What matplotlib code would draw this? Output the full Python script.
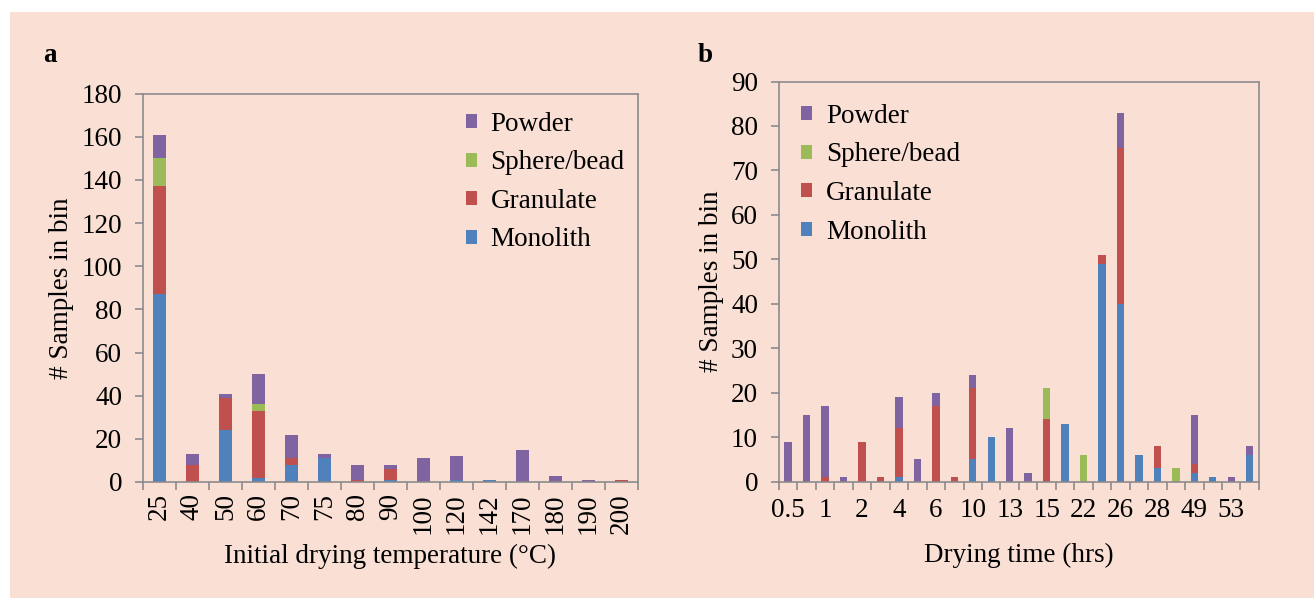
import numpy as np
import matplotlib
matplotlib.use('Agg')
import matplotlib.pyplot as plt
from matplotlib.patches import Rectangle

plt.rcParams['font.family'] = ['Liberation Serif', 'DejaVu Serif']
plt.rcParams['font.size'] = 19.5

# colours for the four sample shapes
c_mono = '#4f81bd'
c_gran = '#c0504d'
c_sphere = '#9bbb59'
c_powder = '#8064a2'
bg = '#f9dfd4'
edge = '#8c8c8c'

# panel a: initial drying temperature bins
temp_labels = ['25', '40', '50', '60', '70', '75', '80', '90', '100', '120', '142', '170', '180', '190', '200']
temp_mono = [87, 0, 24, 2, 8, 11, 0, 1, 0, 1, 1, 0, 0, 0, 0]
temp_gran = [50, 8, 15, 31, 3, 0, 1, 5, 0, 0, 0, 0, 0, 0, 1]
temp_sphere = [13, 0, 0, 3, 0, 0, 0, 0, 0, 0, 0, 0, 0, 0, 0]
temp_powder = [11, 5, 2, 14, 11, 2, 7, 2, 11, 11, 0, 15, 3, 1, 0]

# panel b: drying time bins (only every other bin is labelled on the axis)
time_labels = ['0.5', '', '1', '', '2', '', '4', '', '6', '', '10', '', '13', '',
               '15', '', '22', '', '26', '', '28', '', '49', '', '53', '']
time_mono = [0, 0, 0, 0, 0, 0, 1, 0, 0, 0, 5, 10, 0, 0, 0, 13, 0, 49, 40, 6, 3, 0, 2, 1, 0, 6]
time_gran = [0, 0, 1, 0, 9, 1, 11, 0, 17, 1, 16, 0, 0, 0, 14, 0, 0, 2, 35, 0, 5, 0, 2, 0, 0, 0]
time_sphere = [0, 0, 0, 0, 0, 0, 0, 0, 0, 0, 0, 0, 0, 0, 7, 0, 6, 0, 0, 0, 0, 3, 0, 0, 0, 0]
time_powder = [9, 15, 16, 1, 0, 0, 7, 5, 3, 0, 3, 0, 12, 2, 0, 0, 0, 0, 8, 0, 0, 0, 11, 0, 1, 2]


def stacked(ax, mono, gran, sphere, powder, width):
    x = np.arange(len(mono))
    mono = np.array(mono, dtype=float)
    gran = np.array(gran, dtype=float)
    sphere = np.array(sphere, dtype=float)
    powder = np.array(powder, dtype=float)
    b1 = ax.bar(x, mono, width, color=c_mono, label='Monolith', zorder=2)
    b2 = ax.bar(x, gran, width, bottom=mono, color=c_gran, label='Granulate', zorder=2)
    b3 = ax.bar(x, sphere, width, bottom=mono + gran, color=c_sphere, label='Sphere/bead', zorder=2)
    b4 = ax.bar(x, powder, width, bottom=mono + gran + sphere, color=c_powder, label='Powder', zorder=2)
    return [b4, b3, b2, b1]


def style(ax, n, labels, rot, pad):
    ax.set_facecolor(bg)
    for s in ax.spines.values():
        s.set_color(edge)
        s.set_linewidth(1.2)
    ax.set_xlim(-0.5, n - 0.5)
    # tick marks sit on the bin boundaries, labels at the bin centres
    ax.set_xticks(np.arange(n + 1) - 0.5)
    ax.set_xticklabels([])
    ax.set_xticks(np.arange(n), minor=True)
    ax.set_xticklabels(labels, minor=True, rotation=rot)
    ax.tick_params(axis='x', which='major', direction='out', length=6, width=1.2, color=edge)
    ax.tick_params(axis='x', which='minor', length=0, pad=pad)
    ax.tick_params(axis='y', direction='out', length=6, width=1.2, color=edge, pad=9)
    ax.set_ylabel('# Samples in bin')


fig = plt.figure(figsize=(13.14, 5.98), dpi=100)
fig.patch.set_facecolor('white')
fig.patches.append(Rectangle((10 / 1314, 0), 1, 1 - 12 / 598, transform=fig.transFigure,
                             facecolor=bg, edgecolor='none', zorder=-10))

leg_kw = dict(loc='upper left', frameon=False, borderpad=0, borderaxespad=0,
              handlelength=0.42, handleheight=0.42, handletextpad=0.5, labelspacing=0.5)

ax1 = fig.add_axes([0.1088, 0.194, 0.3767, 0.6496])
h = stacked(ax1, temp_mono, temp_gran, temp_sphere, temp_powder, 0.4)
style(ax1, len(temp_labels), temp_labels, 90, 8)
ax1.set_ylim(0, 180)
ax1.set_yticks(range(0, 181, 20))
ax1.set_xlabel('Initial drying temperature (°C)', labelpad=7)
ax1.legend(handles=h, bbox_to_anchor=(0.652, 0.953), **leg_kw)
ax1.yaxis.set_label_coords(-0.14, 0.5)

ax2 = fig.add_axes([0.5928, 0.1945, 0.3653, 0.6692])
h = stacked(ax2, time_mono, time_gran, time_sphere, time_powder, 0.4)
style(ax2, len(time_labels), time_labels, 0, 12)
ax2.set_ylim(0, 90)
ax2.set_yticks(range(0, 91, 10))
ax2.set_xlabel('Drying time (hrs)', labelpad=14)
ax2.legend(handles=h, bbox_to_anchor=(0.046, 0.944), **leg_kw)
ax2.yaxis.set_label_coords(-0.115, 0.5)

fig.text(50 / 1314, 1 - 56 / 598, 'a', fontweight='bold', ha='center', va='center')
fig.text(705 / 1314, 1 - 56 / 598, 'b', fontweight='bold', ha='center', va='center')

fig.savefig('out.png', dpi=100, facecolor=fig.get_facecolor())
